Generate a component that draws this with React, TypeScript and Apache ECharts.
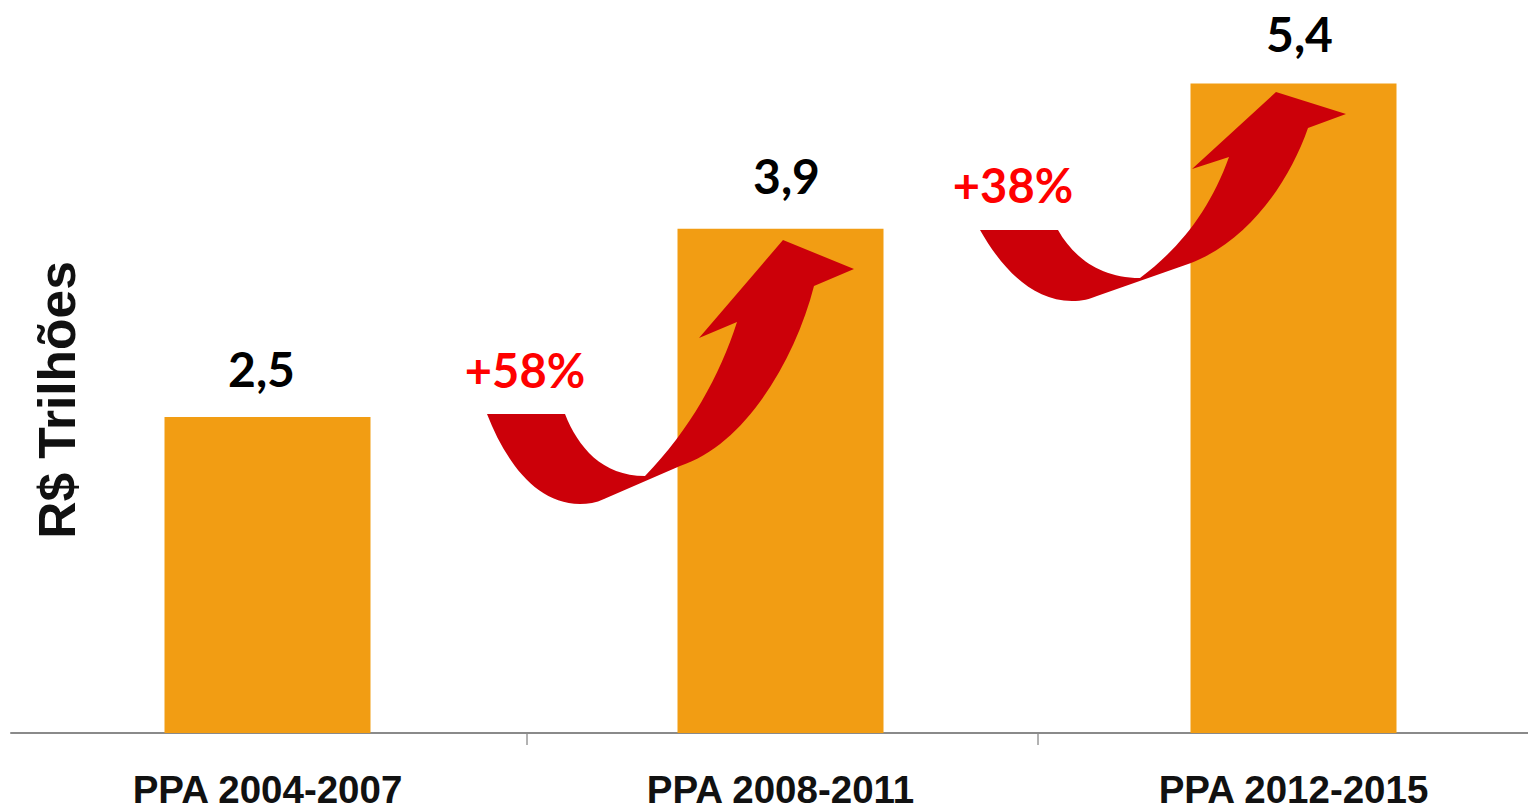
import React, { useEffect, useRef } from "react";
import * as echarts from "echarts";

const categories = ["PPA 2004-2007", "PPA 2008-2011", "PPA 2012-2015"];
// Drawn bar heights (in R$ trillions on the chart's own scale)
const barValues = [2.5, 3.99, 5.14];
const valueLabels = ["2,5", "3,9", "5,4"];
const growthLabels = ["+58%", "+38%"];
const yAxisTitle = "R$ Trilhões";

const ARROW_A =
  "M487 414 L565 414 C578 447 602 476 645 476 C690 430 720 375 737 322 L699 338 L783 240 L854 269 L814 286 C795 360 745 445 680 466 L604 499 C596 503 588 504 580 504 C535 504 505 460 487 414 Z";
const ARROW_B =
  "M980 230 L1058 230 C1072 255 1098 278 1140 278 C1180 248 1210 210 1229 157 L1192 169 L1276 92 L1346 114 L1308 128 C1290 180 1250 240 1191 263 L1097 296 C1090 299 1082 301 1072 301 C1030 301 1000 265 980 230 Z";

echarts.graphic.registerShape("growthArrowA", echarts.graphic.extendPath(ARROW_A, {}) as any);
echarts.graphic.registerShape("growthArrowB", echarts.graphic.extendPath(ARROW_B, {}) as any);

const BAR = "#F29D13";
const ARROW = "#CC0009";
const LABEL_FONT = "Lato, 'Noto Sans', sans-serif";
const AXIS_FONT = "'Liberation Sans', Arial, sans-serif";
const labelOffsets = [[-6, -6], [6, -10], [6, -7]];

export default function App() {
  const ref = useRef<HTMLDivElement>(null);
  useEffect(() => {
    document.body.style.margin = "0";
    const chart = echarts.init(ref.current!, undefined, { renderer: "svg" });
    chart.setOption({
      animation: false,
      backgroundColor: "#ffffff",
      grid: { left: 11, top: 0, width: 1539, height: 733, containLabel: false, outerBoundsMode: "none" },
      xAxis: {
        type: "category",
        data: categories,
        axisLine: { lineStyle: { color: "#8a8a8a", width: 2 } },
        axisTick: { show: false },
        axisLabel: {
          margin: 41,
          color: "#111111",
          fontFamily: AXIS_FONT,
          fontWeight: "bold",
          fontSize: 38.5,
          lineHeight: 30,
          interval: 0,
        },
      },
      yAxis: { type: "value", min: 0, max: 5.8, show: false },
      series: [
        {
          type: "bar",
          barWidth: 206,
          itemStyle: { color: BAR },
          data: barValues.map((v, i) => ({
            value: v,
            label: {
              show: true,
              position: "top",
              distance: 19,
              offset: labelOffsets[i],
              formatter: valueLabels[i],
              color: "#000000",
              fontFamily: LABEL_FONT,
              fontWeight: "bold",
              fontSize: 48,
            },
          })),
        },
      ],
      graphic: [
        { type: "line", shape: { x1: 527, y1: 733, x2: 527, y2: 745 }, style: { stroke: "#666666", lineWidth: 1 } },
        { type: "line", shape: { x1: 1038, y1: 733, x2: 1038, y2: 745 }, style: { stroke: "#666666", lineWidth: 1 } },
        { type: "growthArrowA", x: 0, y: 0, z: 10, style: { fill: ARROW } },
        { type: "growthArrowB", x: 0, y: 0, z: 10, style: { fill: ARROW } },
        {
          type: "text", x: 525, y: 370, z: 11,
          style: { text: growthLabels[0], fill: "#FF0000", font: `bold 47px ${LABEL_FONT}`, textAlign: "center", textVerticalAlign: "middle" },
        },
        {
          type: "text", x: 1013, y: 185, z: 11,
          style: { text: growthLabels[1], fill: "#FF0000", font: `bold 47px ${LABEL_FONT}`, textAlign: "center", textVerticalAlign: "middle" },
        },
        {
          type: "text", x: 57, y: 400, rotation: Math.PI / 2, z: 11,
          style: { text: yAxisTitle, fill: "#111111", font: `bold 51.5px ${AXIS_FONT}`, textAlign: "center", textVerticalAlign: "middle" },
        },
      ],
    });
    return () => chart.dispose();
  }, []);
  return <div ref={ref} style={{ width: 1528, height: 809 }} />;
}
